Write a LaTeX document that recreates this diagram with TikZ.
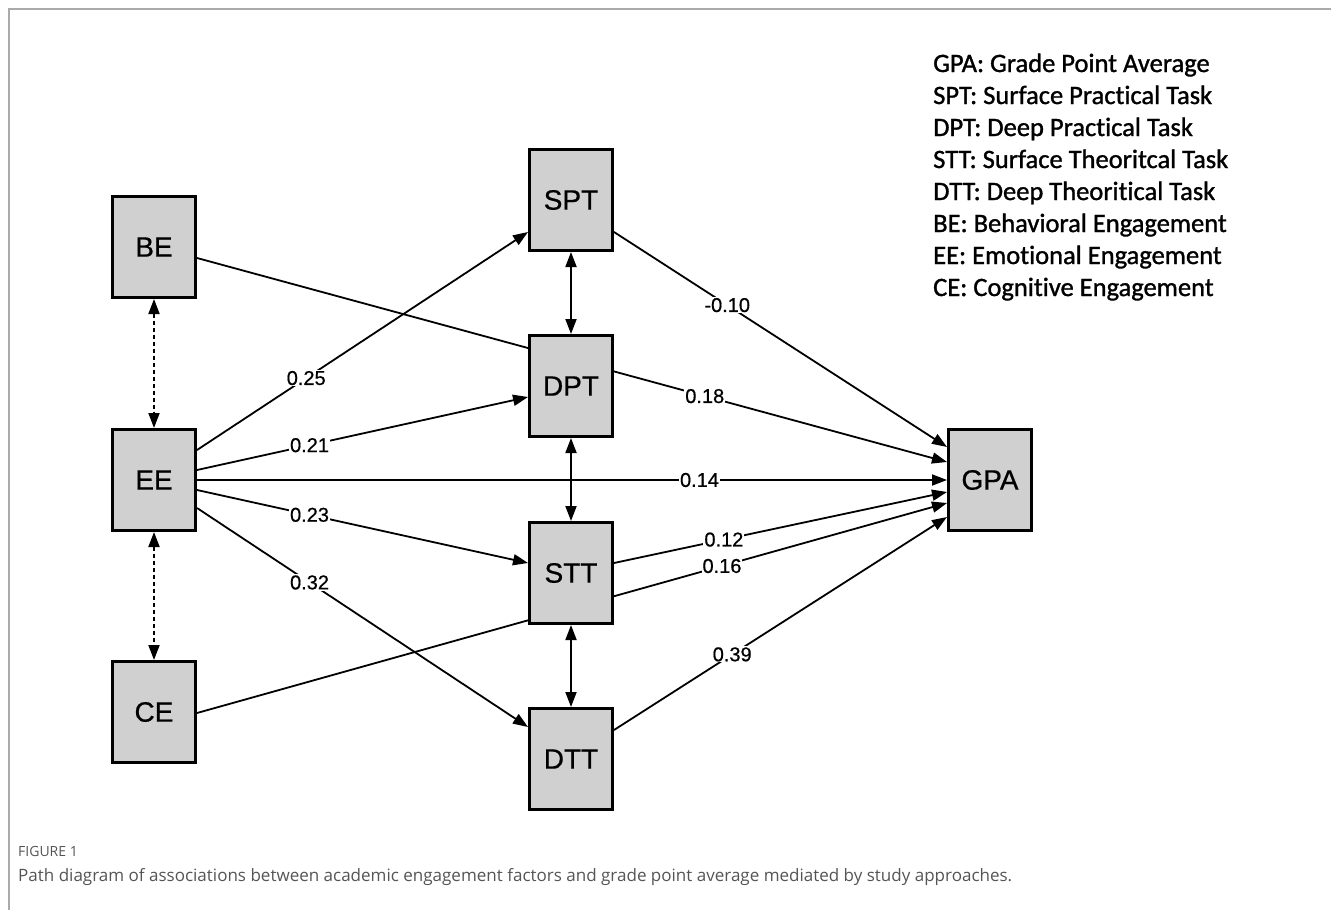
\documentclass[tikz,border=0pt]{standalone}
\usepackage{fontspec}
\setmainfont{Liberation Sans}
\newfontfamily\boxfont[FakeBold=0.6]{Liberation Sans}
\newfontfamily\legfont[FakeBold=1.2,Ligatures={NoCommon,NoContextual}]{Carlito}
\newfontfamily\capfont{Open Sans}
\usetikzlibrary{arrows.meta,calc,backgrounds}
\definecolor{boxgray}{RGB}{208,208,208}
\definecolor{framegray}{RGB}{170,170,170}
\definecolor{capgray}{RGB}{85,85,85}
\newcommand{\nolig}{\kern0pt{}}
\begin{document}
\begin{tikzpicture}[x=1pt,y=-1pt,
 box/.style={draw=black,line width=3pt,fill=boxgray,minimum width=83pt,minimum height=101pt,inner sep=0pt,font=\boxfont\fontsize{28}{28}\selectfont},
 pathline/.style={line width=1.8pt,-{Triangle[length=15pt,width=11pt]}},
 cov/.style={line width=1.8pt,{Triangle[length=15pt,width=11pt]}-{Triangle[length=15pt,width=11pt]}},
 covd/.style={cov,dash pattern=on 4pt off 3pt},
 coef/.style={fill=white,inner sep=1pt,font=\boxfont\fontsize{20}{20}\selectfont},
 legend/.style={anchor=base west,inner sep=0pt,font=\legfont\fontsize{26.5}{26.5}\selectfont},
 frame/.style={draw=framegray,line width=1.2pt}
]
\useasboundingbox (0,0) rectangle (1331,910);

% nodes
\node[box] (BE) at (154,247) {BE};
\node[box] (EE) at (154,480) {EE};
\node[box] (CE) at (154,712) {CE};
\node[box] (SPT) at (571,200) {SPT};
\node[box] (DPT) at (571,386) {DPT};
\node[box] (STT) at (571,573) {STT};
\node[box] (DTT) at (571,759) {DTT};
\node[box] (GPA) at (990,480) {GPA};

\begin{scope}[on background layer]
\fill[white] (0,0) rectangle (1331,910);
\draw[frame] (9,910) -- (9,9) -- (1331,9);
% paths
\draw[pathline] ($(EE.east)+(0,-30)$) -- node[coef,pos=0.33]{0.25} ($(SPT.west)+(0,32)$);
\draw[pathline] ($(EE.east)+(0,-10)$) -- node[coef,pos=0.34]{0.21} ($(DPT.west)+(0,11)$);
\draw[pathline] (EE.east) -- node[coef,pos=0.67]{0.14} (GPA.west);
\draw[pathline] ($(EE.east)+(0,10)$) -- node[coef,pos=0.34]{0.23} ($(STT.west)+(0,-10)$);
\draw[pathline] ($(EE.east)+(0,28)$) -- node[coef,pos=0.34]{0.32} ($(DTT.west)+(0,-32)$);
\draw[pathline] ($(SPT.east)+(0,32)$) -- node[coef,pos=0.34]{-0.10} ($(GPA.west)+(0,-33)$);
\draw[pathline] ($(BE.east)+(0,11)$) -- node[coef,pos=0.677]{0.18} ($(GPA.west)+(0,-18)$);
\draw[pathline] ($(STT.east)+(0,-10)$) -- node[coef,pos=0.33]{0.12} ($(GPA.west)+(0,12)$);
\draw[pathline] ($(CE.east)+(0,1)$) -- node[coef,pos=0.70]{0.16} ($(GPA.west)+(0,23)$);
\draw[pathline] ($(DTT.east)+(0,-29)$) -- node[coef,pos=0.355]{0.39} ($(GPA.west)+(0,37)$);
% covariances
\draw[covd] (BE.south) -- (EE.north);
\draw[covd] (EE.south) -- (CE.north);
\draw[cov] (SPT.south) -- (DPT.north);
\draw[cov] (DPT.south) -- (STT.north);
\draw[cov] (STT.south) -- (DTT.north);
\end{scope}

% legend
\node[legend] (l1) at (933,72) {GPA: Grade Point Average};
\node[legend] (l2) at (933,104) {SPT: Surface Pract\nolig ical Task};
\node[legend] (l3) at (933,136) {DPT: Deep Pract\nolig ical Task};
\node[legend] (l4) at (933,168) {STT: Surface Theoritcal Task};
\node[legend] (l5) at (933,200) {DTT: Deep Theorit\nolig ical Task};
\node[legend] (l6) at (933,232) {BE: Behavioral Engagement};
\node[legend] (l7) at (933,264) {EE: Emotional Engagement};
\node[legend] (l8) at (933,296) {CE: Cognit\nolig ive Engagement};

% caption
\node[anchor=base west,inner sep=0pt,text=capgray,font=\capfont\fontsize{14}{14}\selectfont] (fig) at (18,856) {FIGURE 1};
\node[anchor=base west,inner sep=0pt,text=capgray,font=\capfont\fontsize{17}{17}\selectfont] (cap) at (18,881) {\resizebox{994pt}{!}{Path diagram of associations between academic engagement factors and grade point average mediated by study approaches.}};
\end{tikzpicture}
\end{document}
